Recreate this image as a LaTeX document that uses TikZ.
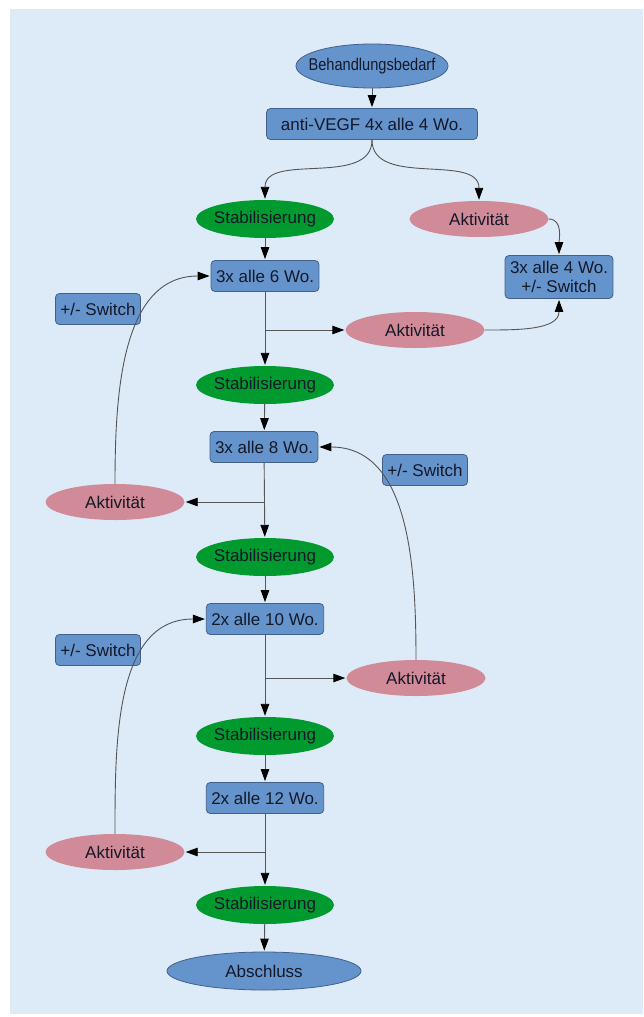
\documentclass[tikz,border=0pt]{standalone}
\usepackage{fontspec}
\setmainfont{Liberation Sans}
\usetikzlibrary{arrows.meta, shapes.geometric, positioning}

\definecolor{panelbg}{RGB}{221,234,247}
\definecolor{boxblue}{RGB}{101,148,204}
\definecolor{boxedge}{RGB}{66,96,140}
\definecolor{stabgreen}{RGB}{0,154,46}
\definecolor{aktpink}{RGB}{208,138,152}
\definecolor{linegray}{RGB}{85,85,85}
\definecolor{txt}{RGB}{20,24,40}

\begin{document}
\begin{tikzpicture}[
    x=1pt,
    y=-1pt,
    font=\fontsize{17}{19}\selectfont,
    plan/.style={
        draw=boxedge,
        fill=boxblue,
        rounded corners=4pt,
        line width=0.8pt,
        minimum height=31pt,
        inner xsep=5pt,
        inner ysep=2pt,
        align=center,
        text=txt
    },
    oval/.style={
        ellipse,
        inner sep=0pt,
        text=txt,
        execute at begin node={\hbox to 0pt\bgroup\hss},
        execute at end node={\hss\egroup}
    },
    stab/.style={
        oval,
        fill=stabgreen,
        minimum width=138pt,
        minimum height=38pt
    },
    akt/.style={
        oval,
        fill=aktpink,
        minimum width=139pt,
        minimum height=36pt
    },
    terminal/.style={
        oval,
        draw=boxedge,
        fill=boxblue,
        line width=0.8pt
    },
    arr/.style={-{Triangle[length=12pt,width=8.5pt,color=black]}, draw=linegray, line width=0.9pt, shorten >=1pt}
]

\useasboundingbox (0,0) rectangle (643,1017);
\fill[panelbg] (10,9) rectangle (643,1014);

% Start
\node[terminal, minimum width=152pt, minimum height=44pt] (start) at (372,66)
    {\scalebox{0.86}[1]{Behandlungsbedarf}};
\node[plan, minimum width=211pt] (vegf) at (372,124) {anti-VEGF 4x alle 4 Wo.};

% Main column
\node[stab] (stab1) at (265,219) {Stabilisierung};
\node[plan] (w6) at (265,276) {3x alle 6 Wo.};
\node[stab] (stab2) at (265,385) {Stabilisierung};
\node[plan] (w8) at (264,447) {3x alle 8 Wo.};
\node[stab] (stab3) at (265,557) {Stabilisierung};
\node[plan] (w10) at (265,619) {2x alle 10 Wo.};
\node[stab] (stab4) at (265,736) {Stabilisierung};
\node[plan] (w12) at (265,798) {2x alle 12 Wo.};
\node[stab] (stab5) at (265,905) {Stabilisierung};
\node[terminal, minimum width=194pt, minimum height=38pt] (ende) at (264,971) {Abschluss};

% Activity side nodes
\node[akt] (akt0) at (479,219) {Aktivität};
\node[plan, minimum height=43pt] (w4) at (559,277) {3x alle 4 Wo.\\+/- Switch};
\node[akt] (akt1) at (415,330) {Aktivität};
\node[akt] (akt2) at (115,502) {Aktivität};
\node[akt] (akt3) at (416,678) {Aktivität};
\node[akt] (akt4) at (115,852) {Aktivität};

% Switch labels
\node[plan] (sw1) at (98,309) {+/- Switch};
\node[plan] (sw2) at (425,470) {+/- Switch};
\node[plan] (sw3) at (98,650) {+/- Switch};

% Junctions
\coordinate (j1) at (w6.south |- akt1);
\coordinate (j2) at (w8.south |- akt2);
\coordinate (j3) at (w10.south |- akt3);
\coordinate (j4) at (w12.south |- akt4);

% Connectors
\draw[arr] (start) -- (vegf);
\draw[arr] (vegf.south) to[out=-90, in=90] (stab1.north);
\draw[arr] (vegf.south) to[out=-90, in=90] (akt0.north);
\draw[arr] (akt0.east) to[out=0, in=90] (w4.north);

\draw[arr] (stab1) -- (w6);
\draw[arr] (w6) -- (stab2);
\draw[arr] (j1) -- (akt1.west);
\draw[arr] (akt1.east) to[out=0, in=-90] (w4.south);

\draw[arr] (stab2) -- (w8);
\draw[arr] (w8) -- (stab3);
\draw[arr] (j2) -- (akt2.east);
\draw[arr] (akt2.north) to[out=90, in=180] (w6.west);

\draw[arr] (stab3) -- (w10);
\draw[arr] (w10) -- (stab4);
\draw[arr] (j3) -- (akt3.west);
\draw[arr] (akt3.north) to[out=90, in=0] (w8.east);

\draw[arr] (stab4) -- (w12);
\draw[arr] (w12) -- (stab5);
\draw[arr] (j4) -- (akt4.east);
\draw[arr] (akt4.north) to[out=90, in=180] (w10.west);

\draw[arr] (stab5) -- (ende);

\end{tikzpicture}
\end{document}
